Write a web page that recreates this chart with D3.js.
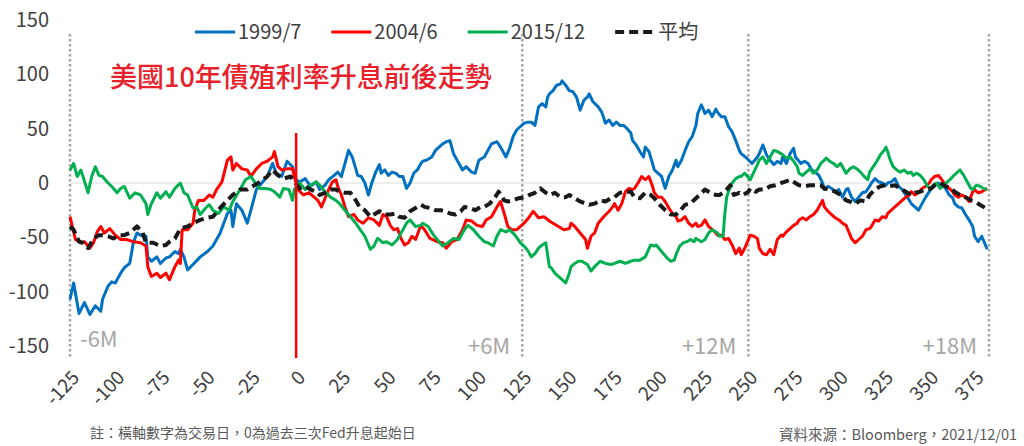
<!DOCTYPE html>
<html><head><meta charset="utf-8">
<script src="https://cdn.jsdelivr.net/npm/d3@7/dist/d3.min.js"></script>
<style>html,body{margin:0;padding:0;background:#fff;} svg{display:block;}</style>
</head><body>
<svg id="chart" width="1024" height="446"></svg>
<script>
// ---- data (trading day, bp change) ----
const seriesNames = ["1999/7", "2004/6", "2015/12", "平均"];
const s1999 = [[-125,-107],[-123,-92],[-120,-120],[-117,-110],[-114,-121],[-111,-113],[-108,-118],[-107,-107],[-104,-95],[-102,-91],[-100,-92],[-97,-83],[-95,-78],[-92,-74],[-90,-55],[-88,-46],[-86,-48],[-83,-49],[-82,-68],[-80,-72],[-77,-68],[-75,-74],[-72,-69],[-70,-68],[-67,-63],[-65,-65],[-64,-61],[-62,-68],[-60,-80],[-57,-75],[-53,-68],[-49,-63],[-46,-58],[-42,-46],[-38,-28],[-36,-25],[-35,-40],[-33,-19],[-30,-25],[-27,-37],[-25,-25],[-22,-6],[-19,0],[-16,6],[-13,18],[-11,9],[-8,6],[-5,20],[-2,15],[0,3],
[2,1],[5,4],[8,-3],[11,1],[13,-6],[16,-2],[18,3],[21,7],[23,10],[25,6],[27,18],[29,30],[31,24],[33,13],[34,7],[36,6],[38,0],[40,-11],[42,1],[44,10],[46,17],[47,9],[49,12],[51,7],[53,10],[55,9],[57,6],[59,6],[61,-5],[63,0],[65,9],[67,12],[69,18],[70,20],[72,21],[75,24],[77,30],[79,33],[81,36],[83,38],[85,39],[87,27],[89,21],[92,12],[94,15],[97,10],[99,9],[101,21],[104,24],[106,30],[108,36],[111,38],[113,33],[115,27],[116,24],[118,32],[120,43],[122,49],[124,52],[126,55],[128,56],
[130,56],[132,53],[134,70],[136,73],[138,70],[139,79],[140,82],[142,85],[144,90],[146,91],[147,94],[149,90],[151,85],[153,84],[155,79],[157,67],[159,76],[161,79],[162,82],[164,75],[167,70],[169,65],[171,55],[173,58],[175,53],[177,56],[179,53],[181,53],[183,50],[185,46],[186,39],[188,35],[190,29],[192,24],[193,33],[195,29],[197,18],[198,12],[200,9],[202,6],[204,-5],[206,6],[208,12],[210,21],[211,15],[213,21],[215,30],[217,38],[219,43],[221,53],[222,64],[224,72],[226,64],[228,67],[230,61],[232,68],[233,65],[235,61],[237,61],[239,52],[241,47],[243,39],[245,30],[246,27],[249,23],[252,18],
[255,24],[256,27],[258,35],[260,26],[262,21],[264,17],[266,20],[268,18],[269,24],[271,18],[273,27],[275,32],[276,24],[278,20],[279,18],[281,20],[283,18],[285,12],[287,10],[289,7],[291,0],[292,-6],[294,-3],[296,-5],[298,-8],[300,-6],[302,-13],[304,-6],[305,-5],[307,-13],[309,-17],[311,-13],[313,-9],[315,-8],[317,-3],[318,0],[320,4],[322,1],[324,0],[326,-2],[327,0],[329,1],[331,4],[333,-3],[335,-6],[337,-11],[339,-16],[340,-19],[342,-22],[344,-25],[346,-19],[348,-13],[350,-8],[351,-5],[353,-2],[355,0],[357,-2],[359,-5],[361,-11],[363,-14],[364,-19],[366,-22],[368,-23],[370,-29],[372,-34],[374,-40],[375,-49],[377,-54],[379,-49],[381,-57],[382,-61]];

const s2004 = [[-125,-31],[-122,-52],[-119,-55],[-117,-54],[-114,-60],[-112,-55],[-110,-45],[-108,-40],[-106,-46],[-103,-42],[-100,-48],[-97,-52],[-94,-52],[-90,-54],[-86,-55],[-83,-58],[-82,-77],[-80,-86],[-77,-83],[-75,-87],[-72,-83],[-70,-89],[-67,-77],[-65,-71],[-64,-74],[-63,-43],[-60,-43],[-57,-37],[-56,-25],[-54,-16],[-51,-16],[-48,-11],[-46,-13],[-44,-6],[-41,1],[-38,21],[-36,24],[-35,12],[-33,18],[-30,13],[-27,12],[-25,6],[-22,13],[-19,18],[-16,20],[-13,24],[-12,29],[-10,15],[-8,12],[-5,13],[-2,13],[-1,6],
[1,-6],[4,-11],[7,-9],[10,-13],[12,-16],[14,-22],[16,-14],[18,-6],[20,1],[22,3],[23,-3],[25,-11],[27,-22],[29,-31],[32,-29],[34,-34],[37,-37],[40,-32],[43,-34],[46,-39],[48,-29],[50,-31],[52,-39],[54,-43],[56,-42],[58,-51],[60,-57],[62,-55],[64,-49],[66,-52],[68,-43],[69,-39],[71,-43],[74,-51],[78,-54],[81,-55],[83,-60],[86,-54],[89,-52],[92,-43],[94,-34],[97,-35],[100,-39],[103,-40],[105,-34],[108,-31],[111,-22],[113,-17],[115,-28],[117,-40],[119,-43],[122,-43],
[124,-40],[126,-37],[129,-31],[131,-26],[134,-32],[137,-31],[140,-35],[142,-37],[145,-40],[148,-43],[151,-42],[152,-37],[154,-40],[157,-46],[160,-52],[161,-60],[163,-49],[165,-46],[167,-37],[170,-31],[173,-26],[175,-22],[176,-19],[178,-25],[180,-19],[182,-8],[184,-5],[186,-6],[187,-5],[189,0],[191,6],[193,3],[195,6],[197,-3],[198,-9],[200,-13],[202,-13],[204,-17],[206,-23],[208,-28],[210,-31],[211,-35],[213,-34],[215,-31],[217,-37],[219,-40],[221,-37],[222,-40],[224,-39],[226,-34],[228,-40],[230,-43],[232,-46],[233,-48],[235,-48],[237,-52],[239,-51],[241,-57],[243,-65],[245,-60],[246,-66],[248,-60],[250,-52],
[251,-48],[253,-49],[255,-51],[256,-60],[258,-65],[260,-66],[262,-61],[264,-66],[266,-52],[268,-48],[269,-49],[271,-45],[273,-42],[275,-39],[277,-37],[278,-34],[280,-32],[282,-34],[284,-31],[286,-29],[288,-25],[290,-19],[291,-16],[292,-22],[294,-26],[296,-29],[298,-32],[300,-34],[302,-37],[304,-39],[305,-43],[307,-51],[309,-55],[311,-52],[313,-49],[315,-43],[317,-42],[318,-40],[320,-34],[322,-35],[324,-31],[326,-32],[327,-28],[329,-25],[331,-22],[333,-19],[335,-16],[337,-13],[339,-11],[340,-8],[342,-11],[344,-9],[346,-5],[348,-3],[350,0],[351,3],[353,6],[355,7],[357,3],[359,-2],[361,-5],[363,-8],[364,-11],[366,-13],[368,-11],[370,-13],[372,-17],[374,-8],[375,-6],[377,-9],[379,-8],[381,-6],[382,-5]];

const s2015 = [[-125,12],[-123,18],[-121,6],[-119,12],[-118,7],[-115,-9],[-113,6],[-111,15],[-109,7],[-107,6],[-104,0],[-102,-3],[-99,-9],[-97,-5],[-95,-3],[-92,-14],[-89,-9],[-86,-11],[-83,-19],[-82,-29],[-80,-19],[-77,-9],[-75,-14],[-72,-8],[-70,-13],[-67,-5],[-64,0],[-62,-9],[-60,-11],[-57,-23],[-55,-22],[-53,-29],[-50,-23],[-48,-20],[-46,-25],[-43,-28],[-40,-22],[-37,-25],[-35,-17],[-31,-6],[-28,3],[-25,6],[-23,1],[-20,-5],[-17,-5],[-14,-6],[-12,-8],[-9,-13],[-7,-5],[-4,-6],[-2,-16],[-1,-6],
[2,0],[5,-6],[8,-2],[11,1],[13,-2],[16,-8],[19,-13],[22,-16],[24,-19],[27,-25],[30,-31],[33,-37],[35,-42],[38,-49],[41,-61],[43,-58],[45,-51],[46,-52],[48,-55],[50,-54],[53,-57],[56,-52],[58,-46],[61,-37],[63,-34],[66,-40],[69,-39],[70,-37],[73,-40],[76,-48],[79,-54],[81,-58],[84,-55],[87,-51],[90,-52],[93,-43],[95,-39],[98,-43],[101,-49],[104,-54],[106,-55],[109,-58],[111,-49],[113,-43],[116,-45],[118,-43],[121,-48],[124,-55],
[126,-58],[128,-62],[130,-68],[132,-65],[134,-60],[136,-57],[138,-55],[140,-77],[141,-78],[143,-83],[145,-86],[147,-89],[149,-92],[151,-83],[152,-77],[154,-74],[156,-72],[158,-72],[160,-74],[161,-75],[163,-81],[165,-77],[168,-72],[171,-74],[174,-75],[176,-74],[179,-72],[182,-74],[185,-72],[187,-71],[190,-71],[193,-68],[196,-57],[198,-58],[199,-57],[201,-61],[203,-65],[205,-69],[207,-72],[209,-71],[210,-66],[212,-58],[214,-55],[216,-54],[218,-52],[220,-54],[221,-51],[224,-54],[226,-52],[228,-46],[230,-43],[233,-46],[234,-49],[236,-49],[237,-28],[238,-13],[239,-8],[241,0],[243,4],[245,6],[246,6],[248,9],
[251,3],[253,10],[255,17],[256,21],[258,24],[260,18],[262,24],[264,30],[266,29],[268,27],[269,26],[271,23],[273,24],[275,20],[277,15],[278,9],[280,7],[282,10],[284,13],[286,9],[288,12],[290,18],[292,21],[293,23],[295,20],[297,18],[299,15],[301,18],[303,12],[304,9],[306,13],[308,15],[310,13],[312,10],[314,6],[316,3],[317,10],[319,15],[321,20],[323,26],[325,30],[326,33],[327,29],[328,23],[330,15],[332,12],[334,10],[336,12],[338,9],[340,10],[341,7],[343,9],[345,7],[347,3],[349,-3],[351,-5],[352,-2],[354,0],[356,-5],[358,-2],[360,1],[362,4],[363,6],[365,9],[367,12],[369,7],[371,1],[373,-5],[374,-6],[376,-2],[378,-3],[380,-5],[382,-6]];

const sAvg = [[-125,-40],[-123,-43],[-120,-54],[-118,-55],[-115,-60],[-112,-51],[-109,-48],[-107,-48],[-104,-49],[-101,-51],[-98,-48],[-95,-48],[-92,-46],[-88,-40],[-85,-45],[-83,-55],[-79,-55],[-75,-58],[-72,-57],[-70,-54],[-67,-51],[-64,-42],[-60,-40],[-57,-37],[-53,-34],[-49,-32],[-46,-31],[-42,-23],[-38,-16],[-35,-11],[-31,-6],[-27,-6],[-24,-3],[-20,1],[-16,6],[-13,12],[-10,7],[-7,4],[-3,6],[-1,1],
[2,-5],[5,-3],[8,-6],[11,-8],[13,-11],[16,-9],[19,-6],[22,-6],[24,-8],[27,-9],[30,-9],[33,-16],[35,-22],[38,-25],[41,-31],[44,-28],[46,-26],[49,-29],[52,-29],[55,-28],[57,-31],[60,-32],[63,-26],[66,-23],[69,-20],[71,-22],[74,-23],[77,-25],[80,-25],[82,-26],[85,-28],[88,-29],[91,-26],[93,-22],[96,-23],[99,-25],[102,-22],[104,-22],[107,-19],[110,-13],[112,-8],[115,-16],[117,-17],[120,-16],[123,-14],
[127,-13],[129,-11],[132,-9],[135,-5],[138,-9],[140,-11],[143,-9],[146,-13],[149,-13],[151,-11],[154,-14],[157,-17],[160,-19],[162,-20],[165,-19],[168,-16],[171,-17],[174,-14],[176,-13],[179,-9],[182,-8],[185,-8],[187,-13],[190,-14],[193,-9],[196,-11],[198,-14],[201,-20],[204,-25],[207,-29],[210,-29],[212,-26],[215,-20],[218,-19],[221,-14],[223,-11],[226,-6],[229,-9],[232,-11],[234,-11],[237,-8],[240,-2],[242,-11],[245,-9],[247,-11],[250,-8],
[251,-5],[254,-8],[256,-6],[259,-6],[262,-3],[265,-2],[268,0],[270,1],[273,3],[276,0],[278,-2],[281,-3],[284,-2],[287,-2],[290,-2],[292,-5],[295,-6],[298,-8],[301,-11],[304,-16],[306,-17],[309,-19],[312,-16],[315,-17],[317,-11],[320,-6],[323,-3],[326,-2],[328,-3],[331,-2],[334,-5],[337,-8],[340,-11],[342,-9],[345,-8],[348,-6],[351,-5],[353,-2],[356,0],[359,-3],[362,-5],[364,-8],[367,-11],[370,-13],[373,-16],[375,-17],[378,-20],[381,-23],[382,-25]];

const xTickValues = [-125,-100,-75,-50,-25,0,25,50,75,100,125,150,175,200,225,250,275,300,325,350,375];
const yTickValues = [-150,-100,-50,0,50,100,150];
const markerDays = [-125, 125, 250, 383];
const markerLabels = ["-6M", "+6M", "+12M", "+18M"];
const eventDay = 0;
const titleText = "美國10年債殖利率升息前後走勢";
const noteText = "註：橫軸數字為交易日，0為過去三次Fed升息起始日";
const sourceText = "資料來源：Bloomberg，2021/12/01";

// ---- drawing ----
const FONT = "'Noto Sans CJK TC','Noto Sans',sans-serif";
const colors = ["#0070C0", "#FF0000", "#00B050", "#1a1a1a"];
const allSeries = [s1999, s2004, s2015, sAvg];
const fmt = d => String(d); // plain hyphen-minus like the original

const svg = d3.select("#chart").attr("font-family", FONT);
const x = d3.scaleLinear().domain([-125, 383]).range([70, 989]);
const y = d3.scaleLinear().domain([-150, 150]).range([346, 20]);

// zero gridline
svg.append("line").attr("x1", x(-125)).attr("x2", x(383))
  .attr("y1", y(0)).attr("y2", y(0)).attr("stroke", "#d9d9d9").attr("stroke-width", 1);

// y axis
const ya = svg.append("g").attr("transform", `translate(${x(-125)},0)`)
  .call(d3.axisLeft(y).tickValues(yTickValues).tickFormat(fmt).tickSize(0).tickPadding(21));
ya.select(".domain").remove();
ya.selectAll("text").attr("font-size", 20).attr("fill", "#404040").attr("font-family", FONT);

// x axis
const xa = svg.append("g").attr("transform", `translate(0,362)`)
  .call(d3.axisBottom(x).tickValues(xTickValues).tickFormat(fmt).tickSize(0).tickPadding(0));
xa.select(".domain").remove();
xa.selectAll("text").attr("font-size", 19).attr("fill", "#404040").attr("font-family", FONT)
  .attr("text-anchor", "end").attr("dy", "0.35em").attr("y", 0).attr("x", 0)
  .attr("transform", "translate(5,12) rotate(-47)");

// dotted period markers
svg.append("g").selectAll("line").data(markerDays).join("line")
  .attr("x1", d => x(d)).attr("x2", d => x(d)).attr("y1", 34).attr("y2", 358)
  .attr("stroke", "#a6a6a6").attr("stroke-width", 2.5).attr("stroke-dasharray", "2.5,2.5");

// period labels
svg.append("g").selectAll("text").data(markerDays).join("text")
  .attr("x", (d, i) => i === 0 ? x(d) + 10 : x(d) - 12)
  .attr("y", (d, i) => i === 0 ? 347 : 354)
  .attr("text-anchor", (d, i) => i === 0 ? "start" : "end")
  .attr("font-size", 22).attr("fill", "#a6a6a6")
  .text((d, i) => markerLabels[i]);

// series lines
const line = d3.line().x(d => x(d[0])).y(d => y(d[1]));
allSeries.forEach((s, i) => {
  const p = svg.append("path").datum(s).attr("d", line).attr("fill", "none")
    .attr("stroke", colors[i]).attr("stroke-linejoin", "round");
  if (i === 3) p.attr("stroke-width", 4).attr("stroke-dasharray", "9,5");
  else p.attr("stroke-width", 3);
});

// event vertical line
svg.append("line").attr("x1", x(eventDay)).attr("x2", x(eventDay)).attr("y1", 133).attr("y2", 358)
  .attr("stroke", "#FF0000").attr("stroke-width", 2.5);

// title
svg.append("text").attr("x", 110).attr("y", 87).attr("font-size", 27).attr("fill", "#E8202A")
  .attr("font-weight", 500).text(titleText);

// legend
let lx = 195;
seriesNames.forEach((name, i) => {
  const g = svg.append("g");
  const l = g.append("line").attr("x1", lx).attr("x2", lx + 40).attr("y1", 32).attr("y2", 32)
    .attr("stroke", colors[i]);
  if (i === 3) l.attr("stroke-width", 4).attr("stroke-dasharray", "9,5");
  else l.attr("stroke-width", 3);
  const t = g.append("text").attr("x", lx + 43).attr("y", 39).attr("font-size", 20)
    .attr("fill", "#404040").text(name);
  lx += 43 + t.node().getComputedTextLength() + 30;
});

// notes
svg.append("text").attr("x", 90).attr("y", 438).attr("font-size", 14).attr("fill", "#595959").text(noteText);
svg.append("text").attr("x", 1017).attr("y", 440).attr("font-size", 14.5).attr("fill", "#595959")
  .attr("text-anchor", "end").text(sourceText);
</script>
</body></html>
